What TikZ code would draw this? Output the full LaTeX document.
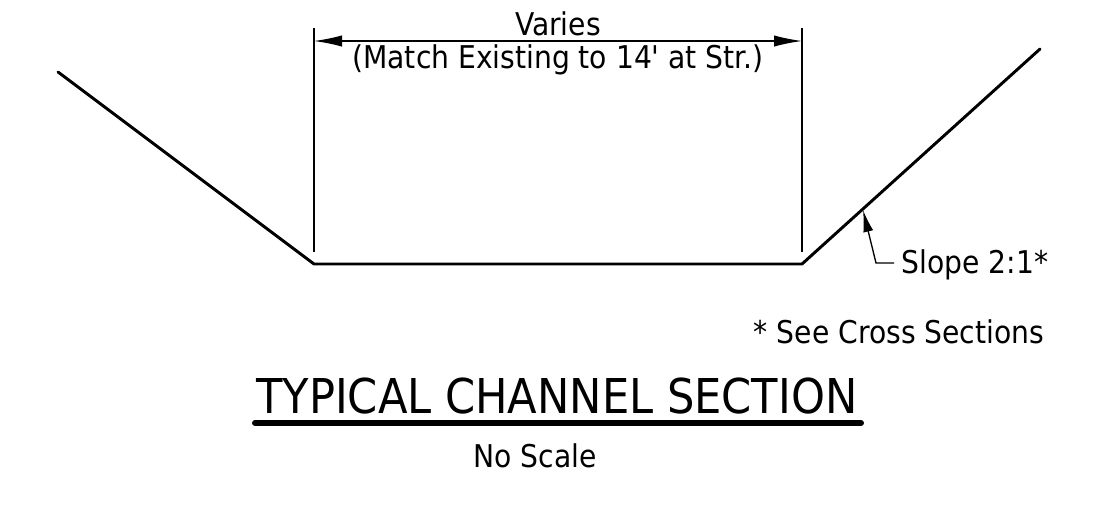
\documentclass[tikz,border=0pt]{standalone}
\usepackage{fontspec}
\newfontfamily\plainf{DejaVu Sans Condensed}
\usetikzlibrary{arrows.meta}
\tikzset{
 profile/.style={line width=2.2pt,line cap=round,line join=round},
 thin line/.style={line width=1pt},
 dim/.style={line width=1pt,{Latex[length=21pt,width=8.5pt]}-{Latex[length=21pt,width=8.5pt]}},
 lab/.style={inner sep=0pt,text=black,anchor=base},
 small/.style={font=\plainf\fontsize{23.5pt}{26pt}\selectfont},
}
\begin{document}
\begin{tikzpicture}[x=0.75pt,y=-0.75pt]
\useasboundingbox (0,0) rectangle (1110,508);
\fill[white] (0,0) rectangle (1110,508);
\coordinate (tl) at (58,72);
\coordinate (bl) at (314,264);
\coordinate (br) at (802,264);
\coordinate (tr) at (1040,49);
\coordinate (el) at (314,252);
\coordinate (er) at (802,252);
\coordinate (eltop) at (314,28);
\coordinate (ertop) at (802,28);
\coordinate (dl) at (314,41);
\coordinate (dr) at (802,41);
\coordinate (atip) at (863,210);
\coordinate (abase) at (876,263);
\coordinate (lead) at (894,263);
\draw[profile] (tl) -- (bl) -- (br) -- (tr);
\draw[thin line] (eltop) -- (el);
\draw[thin line] (ertop) -- (er);
\draw[dim] (dl) -- (dr);
\draw[thin line,{Latex[length=16.5pt,width=7.5pt]}-] (atip) -- (abase) -- (lead);
\node[lab,small] (t1) at (558,35) {Varies};
\node[lab,small] (t2) at (558,68) {(Match Existing to 14' at Str.)};
\node[lab,small] (t3) at (975,273) {Slope 2:1*};
\node[lab,small] (t4) at (899,343) {* See Cross Sections};
\node[lab,font=\plainf\fontsize{36pt}{40pt}\selectfont] (t5) at (557,413) {TYPICAL CHANNEL SECTION};
\draw[line width=4.5pt,line cap=round] (255,423) -- (861,423);
\node[lab,small] (t6) at (535,467) {No Scale};
\end{tikzpicture}
\end{document}
